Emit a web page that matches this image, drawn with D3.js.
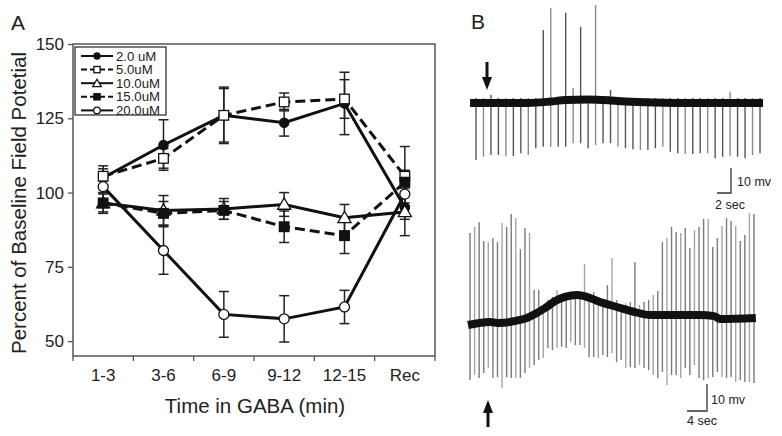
<!DOCTYPE html>
<html><head><meta charset="utf-8">
<script src="https://cdn.jsdelivr.net/npm/d3@7"></script>
<style>body{margin:0;background:#fff}svg{display:block;font-family:"Liberation Sans",Arial,sans-serif}</style>
</head><body>
<svg id="c" width="782" height="436"></svg>
<script>
// ---------- Panel A data ----------
const categories = ["1-3","3-6","6-9","9-12","12-15","Rec"];
const yTicks = [50,75,100,125,150];
const seriesNames = ["2.0 uM","5.0uM","10.0uM","15.0uM","20.0uM"];
const s2  = [105, 116, 126, 123.5, 130, 95];
const e2  = [3, 8.5, 9.5, 4.5, 10.5, 4];
const s5  = [105.5, 111.5, 126, 130.5, 131.5, 105.5];
const e5  = [3.5, 3.3, 9, 3, 6.5, 10];
const s10 = [96.5, 94, 94.5, 96, 91.5, 93.5];
const e10 = [3, 5, 3.5, 4, 4.5, 8];
const s15 = [96.5, 93, 94, 88.5, 85.5, 103.5];
const e15 = [3.5, 4, 3, 5.3, 6, 4];
const s20 = [102, 80.5, 59, 57.5, 61.5, 99.5];
const e20 = [2, 8, 7.7, 7.8, 5.6, 3];

// ---------- Panel B data (mV relative to initial baseline) ----------
const trace1Lo = [-22.8,-21.5,-20.8,-20.8,-21.2,-21.2,-20.1,-20.8,-18.1,-17.5,-17.5,-17.5,-17.5,-16.1,-16.1,-18.1,-16.8,-16.1,-16.1,-17.5,-18.1,-18.5,-18.8,-18.8,-18.1,-17.5,-19.5,-20.1,-20.4,-20.4,-20.1,-20.1,-22.1,-21.5,-21.2,-21.5,-22.1,-20.8,-20.1];
const trace1Hi = [2,2,3.2,2,2,2,2,2,2,29.2,37.9,2.5,36.1,6,30.5,2.5,39.2,2.5,5.2,2,2,2,2,2,2,2,2,2,2,2,2,2,2,2,4.5,2,2,2,2];
const trace1Base = [[0.2,0],[8,0],[11,0.6],[13,1.2],[16,1.4],[18,1.2],[21,0.6],[25,0.2],[30,0],[39.4,0]];

const trace2Hi = [34.1,36.3,38.1,31.1,30.7,32.2,30.7,37.8,36.3,41.1,39.6,28.1,35.9,34.1,13.0,13.0,7.4,9.3,10.4,13.0,11.1,11.1,11.9,11.9,11.5,22.6,10.0,12.2,9.3,8.5,14.8,24.8,9.3,
  7.4,8.1,8.5,23.3,7.4,8.5,9.3,11.1,12.6,30.7,32.2,36.3,34.4,34.1,35.9,28.5,35.2,36.3,39.3,39.3,28.9,32.2,36.7,39.6,38.5,36.7,31.1,33.3,41.5,41.1];
const trace2Lo = [-20.4,-18.5,-19.6,-17.8,-15.9,-19.6,-19.3,-23.3,-19.3,-19.6,-19.6,-19.6,-17.8,-15.9,-14.8,-13.0,-12.2,-8.5,-9.3,-8.5,-8.1,-8.5,-6.3,-7.4,-7.4,-8.5,-11.9,-11.9,-12.2,-11.1,-11.9,-10.4,-13.7,
  -13.0,-15.9,-15.6,-15.9,-14.8,-15.9,-16.7,-18.5,-19.6,-17.4,-22.2,-18.5,-18.5,-19.6,-15.9,-18.5,-14.8,-19.6,-20.4,-19.6,-19.3,-17.4,-19.3,-19.6,-19.3,-21.1,-20.4,-21.1,-21.1,-21.5];
const trace2Base = [[0.56,0],[5.4,1.1],[7.5,0.7],[11.9,1.9],[13.4,2.6],[15.2,4.1],[17.4,6.3],[19.6,8.9],[21.7,10.4],[24.4,11.1],[27.2,10.0],[29.4,8.5],[31.6,7.4],[33.8,6.3],[37,4.8],[40.3,3.7],[46.9,3.7],[51.2,3.7],[54.3,3.3],[55.6,2.2],[63.4,2.6]];
const scaleLabels = [["10 mv","2 sec"],["10 mv","4 sec"]];

const svg = d3.select("#c");
const F = '"Liberation Sans",Arial,sans-serif';

// ---------- Panel A ----------
const L=73,R=435,T=44,B=356;
const x = d3.scaleBand().domain(categories).range([L,R]).padding(0);
const y = d3.scaleLinear().domain([45,150]).range([B,T]);
const cx = c => x(c)+x.bandwidth()/2;

svg.append("rect").attr("x",L).attr("y",T).attr("width",R-L).attr("height",B-T)
  .attr("fill","none").attr("stroke","#555").attr("stroke-width",1.5);

const yAxis = svg.append("g").attr("transform",`translate(${L},0)`)
  .call(d3.axisLeft(y).tickValues(yTicks).tickSize(5).tickPadding(4));
yAxis.select(".domain").remove();
yAxis.selectAll("line").attr("stroke","#555").attr("stroke-width",1.3);
yAxis.selectAll("text").attr("font-size",17).attr("font-family",F).attr("fill","#222");

const xg = svg.append("g").attr("transform",`translate(0,${B})`);
const bounds = categories.map(c=>x(c)).concat([R]);
xg.selectAll("line").data(bounds).join("line")
  .attr("x1",d=>d).attr("x2",d=>d).attr("y1",0).attr("y2",5).attr("stroke","#555").attr("stroke-width",1.3);
xg.selectAll("text").data(categories).join("text")
  .attr("x",d=>cx(d)).attr("y",25).attr("text-anchor","middle")
  .attr("font-size",17).attr("font-family",F).attr("fill","#222").text(d=>d);

svg.append("text").attr("x",255).attr("y",413).attr("text-anchor","middle")
  .attr("font-size",20.5).attr("font-family",F).attr("fill","#222").text("Time in GABA (min)");
svg.append("text").attr("transform","translate(26,203) rotate(-90)").attr("text-anchor","middle")
  .attr("font-size",20.5).attr("font-family",F).attr("fill","#222").text("Percent of Baseline Field Potetial");
svg.append("text").attr("x",11).attr("y",30).attr("font-size",21).attr("font-family",F).attr("fill","#222").text("A");
svg.append("text").attr("x",471).attr("y",29).attr("font-size",21).attr("font-family",F).attr("fill","#222").text("B");

const series = [
  {name:seriesNames[0], v:s2,  e:e2,  dash:null,   marker:"circle",   fill:"#111"},
  {name:seriesNames[1], v:s5,  e:e5,  dash:"10,5", marker:"square",   fill:"#fff"},
  {name:seriesNames[2], v:s10, e:e10, dash:null,   marker:"triangle", fill:"#fff"},
  {name:seriesNames[3], v:s15, e:e15, dash:"10,5", marker:"square",   fill:"#111"},
  {name:seriesNames[4], v:s20, e:e20, dash:null,   marker:"circle2",  fill:"#fff"}
];
const line = d3.line().x((d,i)=>cx(categories[i])).y(d=>y(d));

// error bars
series.forEach(s=>{
  const g = svg.append("g");
  s.v.forEach((v,i)=>{
    const xx=cx(categories[i]), y1=y(v+s.e[i]), y2=y(v-s.e[i]);
    g.append("line").attr("x1",xx).attr("x2",xx).attr("y1",y1).attr("y2",y2).attr("stroke","#222").attr("stroke-width",1.5);
    [y1,y2].forEach(yy=>g.append("line").attr("x1",xx-5).attr("x2",xx+5).attr("y1",yy).attr("y2",yy).attr("stroke","#222").attr("stroke-width",1.5));
  });
});
// lines
series.forEach(s=>{
  svg.append("path").datum(s.v).attr("d",line).attr("fill","none").attr("stroke","#111")
    .attr("stroke-width",3).attr("stroke-dasharray",s.dash);
});
function marker(g, type, fill, xx, yy, k){
  k = k||1;
  if(type==="circle") g.append("circle").attr("cx",xx).attr("cy",yy).attr("r",4.6*k).attr("fill",fill).attr("stroke","#111").attr("stroke-width",1.3);
  else if(type==="circle2") g.append("circle").attr("cx",xx).attr("cy",yy).attr("r",5*k).attr("fill",fill).attr("stroke","#111").attr("stroke-width",1.3);
  else if(type==="square") g.append("rect").attr("x",xx-4.8*k).attr("y",yy-4.8*k).attr("width",9.6*k).attr("height",9.6*k).attr("fill",fill).attr("stroke","#111").attr("stroke-width",1.3);
  else if(type==="triangle") g.append("path").attr("d",d3.symbol(d3.symbolTriangle,75*k*k)()).attr("transform",`translate(${xx},${yy+1})`).attr("fill",fill).attr("stroke","#111").attr("stroke-width",1.3);
}
series.forEach(s=>{
  const g=svg.append("g");
  s.v.forEach((v,i)=>marker(g,s.marker,s.fill,cx(categories[i]),y(v)));
});

// legend
svg.append("rect").attr("x",75).attr("y",47).attr("width",91).attr("height",68)
  .attr("fill","#fff").attr("stroke","#333").attr("stroke-width",1.3);
series.forEach((s,i)=>{
  const ly = 56 + i*13.6;
  const g = svg.append("g");
  g.append("line").attr("x1",81).attr("x2",113).attr("y1",ly).attr("y2",ly).attr("stroke","#111").attr("stroke-width",2)
    .attr("stroke-dasharray", s.dash ? "6,3" : null);
  marker(g,s.marker,s.fill,97,ly,0.65);
  g.append("text").attr("x",116).attr("y",ly+4.5).attr("font-size",13.2).attr("font-family",F).attr("fill","#222").text(s.name);
});

// ---------- Panel B ----------
function drawTrace(lo, hi, base, xs, ys, c1, c2){
  const g = svg.append("g");
  lo.forEach((d,i)=>{
    const xx = xs(i+1);
    g.append("line").attr("x1",xx).attr("x2",xx).attr("y1",ys(hi[i])).attr("y2",ys(d))
      .attr("stroke", i%3===1 ? c2 : c1).attr("stroke-width",1.4);
  });
  g.append("path").datum(base).attr("d",d3.line().x(d=>xs(d[0])).y(d=>ys(d[1])).curve(d3.curveMonotoneX))
    .attr("fill","none").attr("stroke","#111").attr("stroke-width",8);
}
const xT1 = d3.scaleLinear().domain([1,39]).range([476,760]);
const yT1 = d3.scaleLinear().domain([0,10]).range([103,78]);
drawTrace(trace1Lo, trace1Hi, trace1Base, xT1, yT1, "#555", "#8a8a8a");
const xT2 = d3.scaleLinear().domain([1,63]).range([470,754]);
const yT2 = d3.scaleLinear().domain([0,10]).range([325,298]);
drawTrace(trace2Lo, trace2Hi, trace2Base, xT2, yT2, "#7a7a7a", "#a5a5a5");

// arrows
function arrow(xx, yTail, yTip){
  const dir = yTip>yTail?1:-1;
  svg.append("line").attr("x1",xx).attr("x2",xx).attr("y1",yTail).attr("y2",yTip-dir*10).attr("stroke","#111").attr("stroke-width",3);
  svg.append("path").attr("d",`M${xx-5},${yTip-dir*13}L${xx+5},${yTip-dir*13}L${xx},${yTip}Z`).attr("fill","#111");
}
arrow(487,62,90);
arrow(488,427,400);

// scale bars
function scaleBar(xv, yBot, vlen, hlen, labels, mvX, mvY, tX, tY){
  svg.append("path").attr("d",`M${xv},${yBot-vlen}L${xv},${yBot}L${xv-hlen},${yBot}`).attr("fill","none").attr("stroke","#333").attr("stroke-width",1.3);
  svg.append("text").attr("x",mvX).attr("y",mvY).attr("font-size",12.5).attr("font-family",F).attr("fill","#222").text(labels[0]);
  svg.append("text").attr("x",tX).attr("y",tY).attr("font-size",12.5).attr("font-family",F).attr("fill","#222").text(labels[1]);
}
scaleBar(731, 193, yT1(0)-yT1(10), 14, scaleLabels[0], 737, 186, 715, 209);
scaleBar(707, 411, yT2(0)-yT2(10), 20, scaleLabels[1], 711, 404, 687, 425);
</script>
</body></html>
